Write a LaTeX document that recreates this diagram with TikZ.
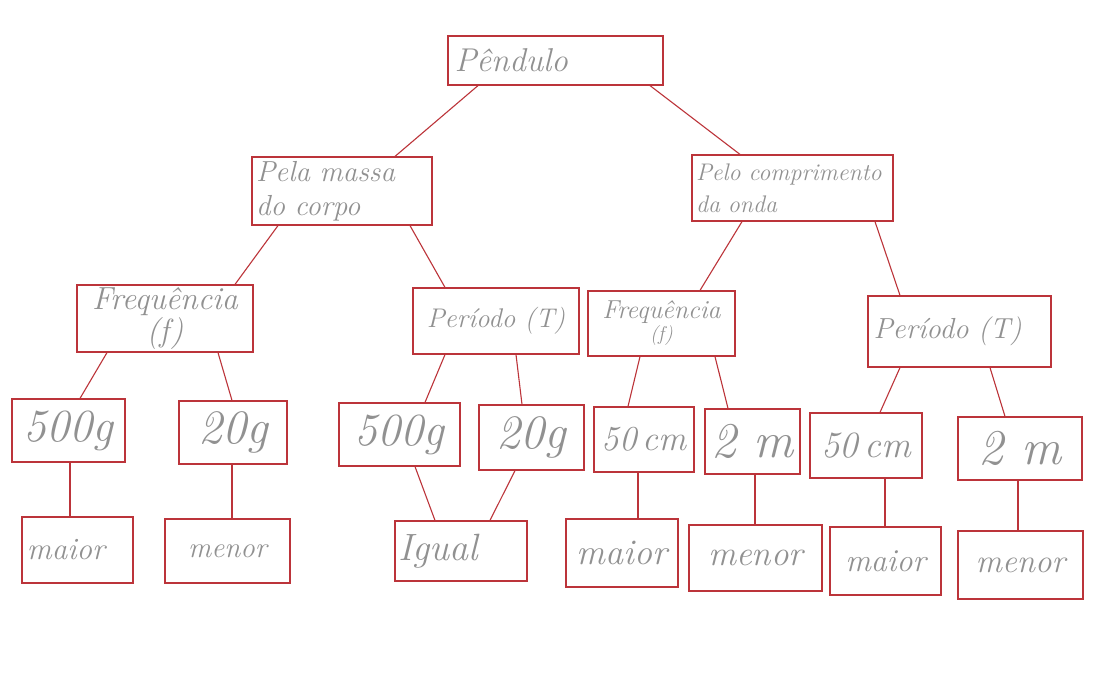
\documentclass[tikz,border=0pt]{standalone}
\usepackage{fontspec}
\definecolor{lred}{RGB}{188,52,58}
\definecolor{pencil}{RGB}{145,145,145}
\tikzset{
  box/.style={draw=lred, line width=1.2pt, rectangle, inner xsep=5pt, inner ysep=2pt, text=pencil, font=\itshape},
  link/.style={draw=lred, line width=1.1pt},
  fs/.style 2 args={font=\itshape\fontsize{#1}{#2}\selectfont}
}
\begin{document}
\begin{tikzpicture}[x=1pt,y=-1pt]
\useasboundingbox[fill=white] (0,0) rectangle (1098,693);
% level 0
\node[box, fs={33}{36}, minimum width=215pt, minimum height=49pt, text width=202pt, align=left] (P) at (555.5,60.5) {Pêndulo};
% level 1
\node[box, fs={29}{34}, minimum width=180pt, minimum height=68pt, text width=172pt, inner xsep=4pt, align=left] (M) at (342,191) {Pela massa\\do corpo};
\node[box, fs={24}{32}, minimum width=201pt, minimum height=66pt, text width=193pt, inner xsep=4pt, align=left] (C) at (792.5,188) {Pelo comprimento\\da onda};
% level 2
\node[box, fs={32}{30}, minimum width=176pt, minimum height=67pt, align=center, inner xsep=2pt] (F1) at (165,318.5) {Frequência\\(f)};
\node[box, fs={27}{30}, minimum width=166pt, minimum height=66pt] (T1) at (496,321) {Período (T)};
\node[box, fs={26}{22}, minimum width=147pt, minimum height=65pt, align=center, inner xsep=2pt] (F2) at (661.5,323.5) {Frequência\\{\fontsize{20}{22}\selectfont(f)}};
\node[box, fs={29}{32}, minimum width=183pt, minimum height=71pt, text width=172pt, align=left] (T2) at (959.5,331.5) {Período (T)};
% level 3
\node[box, fs={46}{50}, minimum width=113pt, minimum height=63pt, inner xsep=3pt] (A1) at (68.5,430.5) {500g};
\node[box, fs={48}{50}, minimum width=108pt, minimum height=63pt] (A2) at (233,432.5) {20g};
\node[box, fs={46}{50}, minimum width=121pt, minimum height=63pt, inner xsep=3pt] (A3) at (399.5,434.5) {500g};
\node[box, fs={48}{50}, minimum width=105pt, minimum height=65pt] (A4) at (531.5,437.5) {20g};
\node[box, fs={35}{38}, minimum width=100pt, minimum height=65pt, inner xsep=2pt] (A5) at (644,439.5) {50\,cm};
\node[box, fs={50}{52}, minimum width=95pt, minimum height=65pt, inner xsep=2pt] (A6) at (752.5,441.5) {2 m};
\node[box, fs={37}{40}, minimum width=112pt, minimum height=65pt, inner xsep=2pt] (A7) at (866,445.5) {50\,cm};
\node[box, fs={50}{52}, minimum width=124pt, minimum height=63pt] (A8) at (1020,448.5) {2 m};
% level 4
\node[box, fs={31}{34}, minimum width=111pt, minimum height=66pt, text width=101pt, align=left] (B1) at (77.5,550) {maior};
\node[box, fs={29}{32}, minimum width=125pt, minimum height=64pt] (B2) at (227.5,551) {menor};
\node[box, fs={38}{40}, minimum width=132pt, minimum height=60pt, text width=126pt, inner xsep=3pt, align=left] (B3) at (461,551) {Igual};
\node[box, fs={36}{38}, minimum width=112pt, minimum height=68pt, inner xsep=3pt] (B4) at (622,553) {maior};
\node[box, fs={35}{38}, minimum width=133pt, minimum height=66pt] (B5) at (755.5,558) {menor};
\node[box, fs={32}{34}, minimum width=111pt, minimum height=68pt] (B6) at (885.5,561) {maior};
\node[box, fs={33}{36}, minimum width=125pt, minimum height=68pt] (B7) at (1020.5,565) {menor};
% connectors
\draw[link] ([xshift=-77.5pt]P.south) -- ([xshift=53pt]M.north);
\draw[link] ([xshift=94.5pt]P.south) -- ([xshift=-52.5pt]C.north);
\draw[link] ([xshift=-64pt]M.south) -- ([xshift=70pt]F1.north);
\draw[link] ([xshift=68pt]M.south) -- ([xshift=-51pt]T1.north);
\draw[link] ([xshift=-50.5pt]C.south) -- ([xshift=38.5pt]F2.north);
\draw[link] ([xshift=82.5pt]C.south) -- ([xshift=-59.5pt]T2.north);
\draw[link] ([xshift=-58pt]F1.south) -- ([xshift=11.5pt]A1.north);
\draw[link] ([xshift=53pt]F1.south) -- ([xshift=-1pt]A2.north);
\draw[link] ([xshift=-51pt]T1.south) -- ([xshift=25.5pt]A3.north);
\draw[link] ([xshift=20pt]T1.south) -- ([xshift=-9.5pt]A4.north);
\draw[link] ([xshift=-21.5pt]F2.south) -- ([xshift=-16pt]A5.north);
\draw[link] ([xshift=53.5pt]F2.south) -- ([xshift=-24.5pt]A6.north);
\draw[link] ([xshift=-59.5pt]T2.south) -- ([xshift=14pt]A7.north);
\draw[link] ([xshift=30.5pt]T2.south) -- ([xshift=-15pt]A8.north);
\draw[link] ([xshift=1.5pt]A1.south) -- ([xshift=-7.5pt]B1.north);
\draw[link] ([xshift=-1pt]A2.south) -- ([xshift=4.5pt]B2.north);
\draw[link] ([xshift=15.5pt]A3.south) -- ([xshift=-26pt]B3.north);
\draw[link] ([xshift=-16.5pt]A4.south) -- ([xshift=29pt]B3.north);
\draw[link] ([xshift=-6pt]A5.south) -- ([xshift=16pt]B4.north);
\draw[link] ([xshift=2.5pt]A6.south) -- ([xshift=-0.5pt]B5.north);
\draw[link] ([xshift=19pt]A7.south) -- ([xshift=-0.5pt]B6.north);
\draw[link] ([xshift=-2pt]A8.south) -- ([xshift=-2.5pt]B7.north);
\end{tikzpicture}
\end{document}
